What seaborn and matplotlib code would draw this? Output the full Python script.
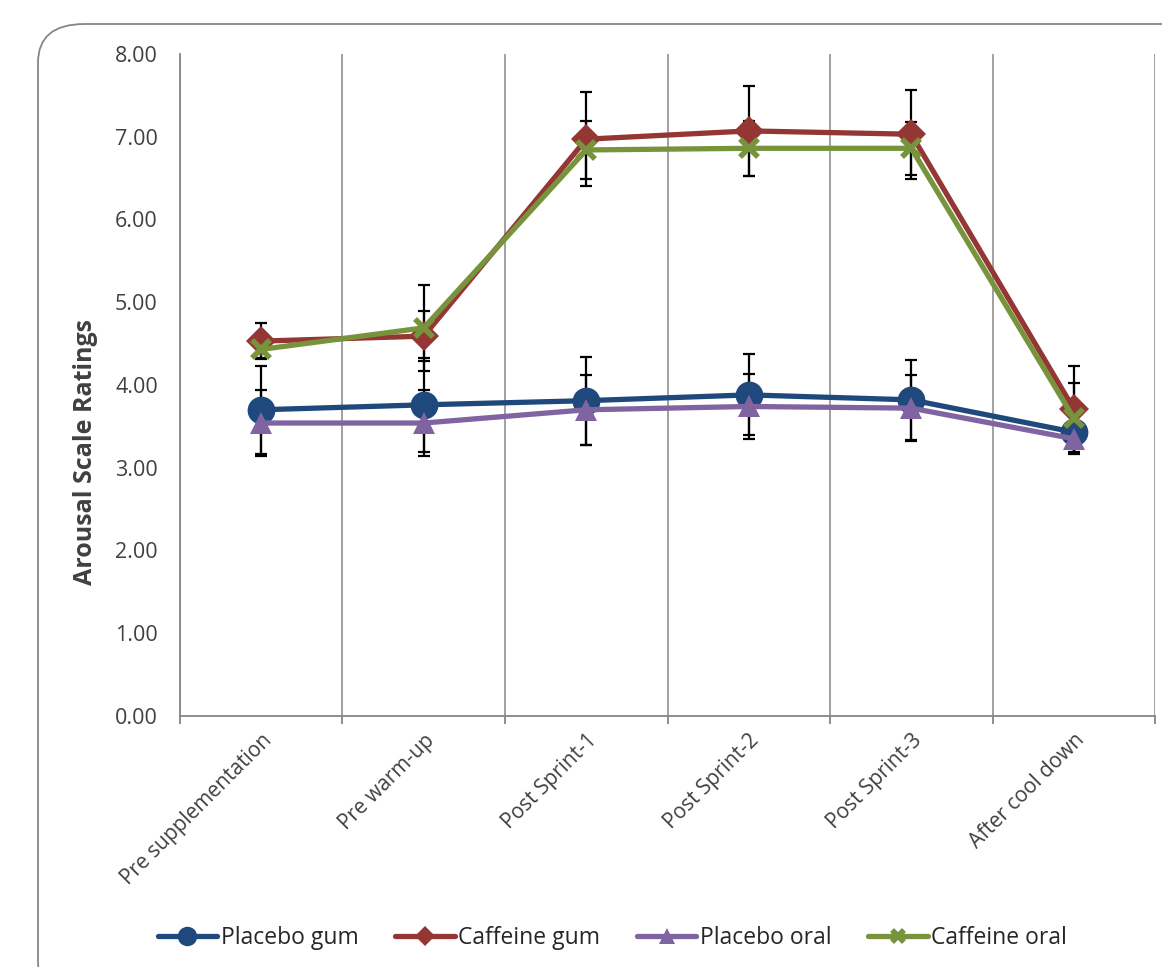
import numpy as np
import seaborn as sns
import matplotlib.pyplot as plt
from matplotlib.patches import FancyBboxPatch

categories = ["Pre supplementation", "Pre warm-up", "Post Sprint-1",
              "Post Sprint-2", "Post Sprint-3", "After cool down"]

placebo_gum = [3.70, 3.76, 3.81, 3.88, 3.82, 3.43]
caffeine_gum = [4.53, 4.59, 6.97, 7.07, 7.03, 3.71]
placebo_oral = [3.54, 3.54, 3.70, 3.74, 3.72, 3.35]
caffeine_oral = [4.43, 4.69, 6.84, 6.86, 6.86, 3.60]

placebo_gum_err = [0.53, 0.57, 0.53, 0.49, 0.48, 0.25]
caffeine_gum_err = [0.22, 0.30, 0.57, 0.54, 0.54, 0.52]
placebo_oral_err = [0.40, 0.40, 0.42, 0.39, 0.40, 0.18]
caffeine_oral_err = [0.10, 0.52, 0.35, 0.33, 0.32, 0.42]

series = [
    ("Placebo gum", placebo_gum, placebo_gum_err, "#1F497D", "o", 20, 1),
    ("Caffeine gum", caffeine_gum, caffeine_gum_err, "#943634", "D", 15, 1),
    ("Placebo oral", placebo_oral, placebo_oral_err, "#8064A2", "^", 16, 1),
    ("Caffeine oral", caffeine_oral, caffeine_oral_err, "#77933C", "x", 13, 4),
]

sns.set_theme(style="white")
plt.rcParams["font.family"] = ["Open Sans", "DejaVu Sans"]

fig = plt.figure(figsize=(11.62, 9.67), dpi=100)
ax = fig.add_axes([0.1549, 0.2596, 0.8391, 0.6846])

# rounded chart frame, cropped at right and bottom like the original
frame = FancyBboxPatch((38 / 1162, 1 - 1000 / 967), 1.2, (1000 - 24) / 967,
                       boxstyle="round,pad=0,rounding_size=0.04",
                       transform=fig.transFigure, facecolor="none",
                       edgecolor="#868686", linewidth=1.3, zorder=0)
fig.patches.append(frame)

x = np.arange(len(categories))
for name, vals, err, color, marker, ms, mew in series:
    ax.errorbar(x, vals, yerr=err, fmt="none", ecolor="black", elinewidth=1.6,
                capsize=4.5, capthick=1.6, zorder=2)
for name, vals, err, color, marker, ms, mew in series:
    sns.lineplot(x=x, y=vals, ax=ax, color=color, marker=marker, markersize=ms,
                 markeredgewidth=mew if marker == "x" else 0,
                 markeredgecolor=color, linewidth=3.8, label=name, zorder=3)

ax.set_xlim(-0.5, 5.5)
ax.set_ylim(0, 8)
ax.set_yticks(np.arange(0, 9, 1))
ax.set_yticklabels([f"{v:.2f}" for v in range(9)], fontsize=15.5, color="#404040")
ax.set_xticks(x)
ax.set_xticklabels(categories, rotation=45, ha="right", rotation_mode="anchor",
                   fontsize=15, color="#404040")
ax.set_xticks(np.arange(-0.5, 6, 1), minor=True)
ax.tick_params(axis="x", which="major", length=0, pad=10)
ax.tick_params(axis="x", which="minor", length=6, color="#868686", width=1.3,
               direction="out", bottom=True)
ax.tick_params(axis="y", length=0, pad=16)
ax.grid(False)
ax.xaxis.grid(True, which="minor", color="#9a9a9a", linewidth=1.3)

for side in ["top", "right"]:
    ax.spines[side].set_visible(False)
for side in ["left", "bottom"]:
    ax.spines[side].set_color("#868686")
    ax.spines[side].set_linewidth(1.3)

ax.set_xlabel("")
ax.set_ylabel("Arousal Scale Ratings", fontsize=18, fontweight="bold",
              color="#404040")
ax.yaxis.set_label_coords(-0.084, 0.399)

ax.legend(loc="center", bbox_to_anchor=(0.527, 0.03),
          bbox_transform=fig.transFigure, ncol=4, frameon=False, fontsize=16.5,
          handlelength=2.6, markerscale=0.7, columnspacing=1.6,
          handletextpad=0.15)

plt.savefig("out.png", dpi=100)
